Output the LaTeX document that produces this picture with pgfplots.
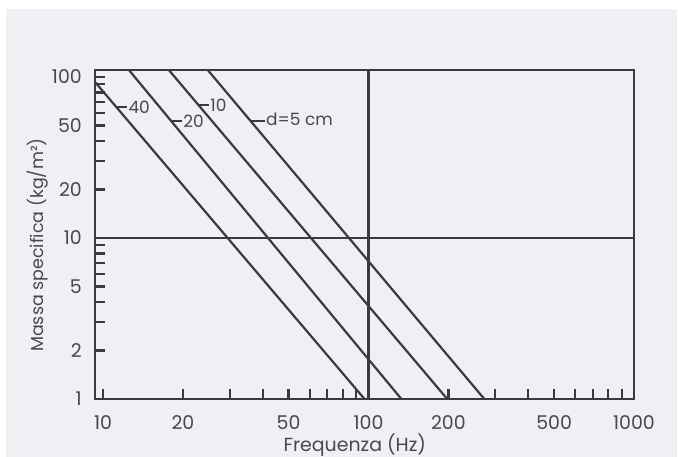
\documentclass[border=0pt]{standalone}
\usepackage{fontspec}
\setmainfont{Poppins}
\usepackage{pgfplots}
\pgfplotsset{compat=1.18}
\definecolor{bg}{RGB}{239,240,244}
\definecolor{ln}{RGB}{58,59,62}
\definecolor{tx}{RGB}{72,72,74}
\newcommand{\tickfont}{\fontsize{19}{22}\selectfont}
\newcommand{\ylblfont}{\fontsize{17.5}{21}\selectfont}
\newcommand{\lblfont}{\fontsize{17}{20}\selectfont}
\begin{document}
\begin{tikzpicture}
\useasboundingbox (0,0) rectangle (678bp,457bp);
\fill[bg] (6bp,0) rectangle (677bp,448bp);
\begin{axis}[
  at={(95bp,58bp)}, anchor=south west,
  width=539bp, height=329bp, scale only axis,
  xmode=log, ymode=log,
  xmin=9.33, xmax=1000, ymin=1, ymax=110.5,
  axis line style={ln, line width=2.2bp},
  tick pos=left, tick align=inside,
  major tick length=10bp, minor tick length=10bp,
  every tick/.style={ln, line width=2.2bp},
  xtick={10,20,50,100,200,500,1000},
  xticklabels={10,20,50,100,200,500,1000},
  minor xtick={30,40,60,70,80,90,300,400,600,700,800,900},
  ytick={1,2,5,10,20,50,100},
  yticklabels={1,2,5,10,20,50,100},
  minor ytick={3,4,6,7,8,9,30,40,60,70,80,90},
  xticklabel style={font=\tickfont, text=tx, inner sep=0pt, anchor=north, yshift=-16bp},
  yticklabel style={font=\tickfont, text=tx, inner sep=0pt, anchor=east, xshift=-13bp},
  xlabel={Frequenza (Hz)},
  ylabel={Massa specifica (kg/m²)},
  xlabel style={font=\tickfont, text=tx, at={(axis description cs:0.482,0)}, anchor=base, inner sep=0pt, yshift=-52bp},
  ylabel style={font=\ylblfont, text=tx, at={(axis description cs:-0.1058,0.468)}, anchor=center, inner sep=0pt},
  clip=true,
]
% reference lines
\addplot[ln, line width=2.2bp] coordinates {(100,1) (100,110.5)};
\addplot[ln, line width=2.2bp] coordinates {(9.33,10) (1000,10)};
% diagonal lines, d = 40, 20, 10, 5 cm
\addplot[ln, line width=2.2bp] coordinates {(9.33,93.1) (96.6,1)};
\addplot[ln, line width=2.2bp] coordinates {(12.52,110.5) (133,1)};
\addplot[ln, line width=2.2bp] coordinates {(17.7,110.5) (198,1)};
\addplot[ln, line width=2.2bp] coordinates {(24.8,110.5) (273,1)};
% label dashes
\draw[ln, line width=2.2bp] (axis cs:11.19,65.1) -- (axis cs:12.31,65.1) node[anchor=west, inner sep=0.5bp, text=tx, font=\lblfont] {40};
\draw[ln, line width=2.2bp] (axis cs:18.17,53.3) -- (axis cs:19.82,53.3) node[anchor=west, inner sep=0.5bp, text=tx, font=\lblfont] {20};
\draw[ln, line width=2.2bp] (axis cs:22.96,67.0) -- (axis cs:25.03,67.0) node[anchor=west, inner sep=0.5bp, text=tx, font=\lblfont] {10};
\draw[ln, line width=2.2bp] (axis cs:36.0,53.3) -- (axis cs:40.6,53.3) node[anchor=west, inner sep=0.5bp, yshift=2bp, text=tx, font=\lblfont] {d=5 cm};
\end{axis}
\end{tikzpicture}
\end{document}
